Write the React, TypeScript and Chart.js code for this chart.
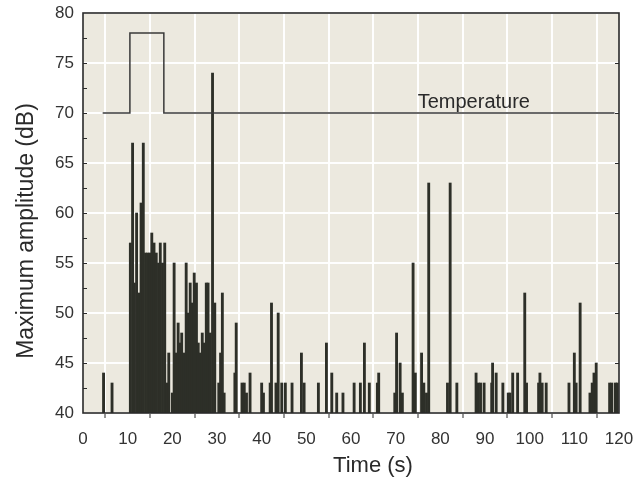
import React, { useEffect, useRef } from "react";
import { Chart, registerables } from "chart.js";

Chart.register(...registerables);

// Burst data: time (s) and maximum amplitude (dB)
const burstTimes = [
  4.6, 6.5,
  10.6, 11.1, 11.5, 12.0, 12.5, 13.0, 13.5, 14.0, 14.5, 15.0, 15.4, 15.9, 16.4, 16.9, 17.3, 17.8, 18.3, 18.8, 19.2,
  20.0, 20.4, 20.8, 21.3, 21.7, 22.1, 22.6, 23.1, 23.5, 24.0, 24.4, 24.9, 25.4, 25.8, 26.2, 26.7, 27.1, 27.6, 28.0, 28.5, 29.0, 29.5,
  30.4, 30.8, 31.2, 31.6,
  34.0, 34.3, 35.6, 36.1, 36.6, 37.4,
  40.0, 40.4, 41.9, 42.2, 43.2, 43.7, 44.5, 45.3, 46.8, 48.9, 49.5,
  52.7, 54.5, 55.7, 56.8, 58.2,
  60.7, 62.1, 63.0, 64.1, 65.9, 66.2, 69.8,
  70.2, 71.0, 71.5, 73.9, 74.4, 75.8, 76.3, 76.9, 77.4,
  81.6, 82.2, 83.7, 88.0, 88.5, 89.0, 89.8,
  91.5, 91.7, 92.5, 94.0, 95.2, 95.6, 96.2, 97.3, 98.9, 99.3,
  102.0, 102.3, 102.8, 103.7, 108.8,
  110.0, 110.4, 111.3, 113.5, 114.0, 114.4, 114.9, 117.9, 118.4, 119.2, 119.6,
];
const burstAmps = [
  44, 43,
  57, 67, 53, 60, 52, 61, 67, 56, 56, 56, 58, 57, 56, 55, 57, 55, 57, 43, 46,
  42, 55, 46, 49, 47, 48, 46, 55, 50, 53, 51, 54, 53, 47, 46, 48, 47, 53, 53, 48, 74, 51,
  43, 46, 52, 42,
  44, 49, 43, 43, 42, 44,
  43, 42, 43, 51, 43, 50, 43, 43, 43, 46, 43,
  43, 47, 44, 42, 42,
  43, 43, 47, 43, 43, 44, 42,
  48, 45, 42, 55, 44, 46, 43, 42, 63,
  43, 63, 43, 44, 43, 43, 43,
  43, 45, 44, 43, 42, 42, 44, 44, 52, 43,
  43, 44, 43, 43, 43,
  46, 43, 51, 42, 43, 44, 45, 43, 43, 43, 43,
];

// Temperature trace (step), drawn on the same dB scale
const tempTimes = [4.4, 10.5, 10.5, 18.1, 18.1, 119];
const tempLevels = [70, 70, 78, 78, 70, 70];

const xTickValues = [0, 10, 20, 30, 40, 50, 60, 70, 80, 90, 100, 110, 120];
const yTickValues = [40, 45, 50, 55, 60, 65, 70, 75, 80];

const xTitle = "Time (s)";
const yTitle = "Maximum amplitude (dB)";
const tempLabel = "Temperature";

const FONT = '"Liberation Sans", Arial, sans-serif';
const PLOT_BG = "#ece9df";
const BAR_COLOR = "#2d2f28";
const INK = "#2a2a2a";

const decorPlugin = {
  id: "decor",
  beforeDraw(chart: any) {
    const { ctx, chartArea: a } = chart;
    ctx.save();
    ctx.fillStyle = "#ffffff";
    ctx.fillRect(0, 0, chart.width, chart.height);
    ctx.fillStyle = PLOT_BG;
    ctx.fillRect(a.left, a.top, a.right - a.left, a.bottom - a.top);
    ctx.restore();
  },
  afterDatasetsDraw(chart: any) {
    const { ctx, chartArea: a, scales } = chart;
    const ys = scales.y;
    const xs = scales.x;
    ctx.save();
    // frame
    ctx.strokeStyle = INK;
    ctx.lineWidth = 1.6;
    ctx.strokeRect(a.left, a.top, a.right - a.left, a.bottom - a.top);
    // minor inward ticks on left, inward ticks on right
    ctx.lineWidth = 1;
    for (let v = 42.5; v < 80; v += 2.5) {
      const py = Math.round(ys.getPixelForValue(v)) + 0.5;
      ctx.beginPath();
      ctx.moveTo(a.left, py);
      ctx.lineTo(a.left + 4, py);
      ctx.stroke();
    }
    for (let v = 45; v < 80; v += 5) {
      const py = Math.round(ys.getPixelForValue(v)) + 0.5;
      ctx.beginPath();
      ctx.moveTo(a.right, py);
      ctx.lineTo(a.right - 4, py);
      ctx.stroke();
    }
    // temperature label
    ctx.fillStyle = INK;
    ctx.font = `20px ${FONT}`;
    ctx.textAlign = "center";
    ctx.textBaseline = "alphabetic";
    ctx.fillText(tempLabel, xs.getPixelForValue(87.5), ys.getPixelForValue(70) - 5);
    ctx.restore();
  },
  afterDraw(chart: any) {
    const { ctx, chartArea: a } = chart;
    ctx.save();
    ctx.fillStyle = INK;
    ctx.textAlign = "center";
    ctx.textBaseline = "middle";
    ctx.font = `22px ${FONT}`;
    ctx.fillText(xTitle, (a.left + a.right) / 2 + 22, 466);
    ctx.translate(27, (a.top + a.bottom) / 2 + 18);
    ctx.rotate(-Math.PI / 2);
    ctx.font = `23px ${FONT}`;
    ctx.fillText(yTitle, 0, 0);
    ctx.restore();
  },
};

export default function App() {
  const ref = useRef<HTMLCanvasElement | null>(null);

  useEffect(() => {
    if (!ref.current) return;
    const chart = new Chart(ref.current, {
      type: "bar",
      data: {
        datasets: [
          {
            type: "line",
            label: tempLabel,
            data: tempTimes.map((t, i) => ({ x: t, y: tempLevels[i] })),
            borderColor: "#3a3a3a",
            borderWidth: 1.5,
            pointRadius: 0,
            fill: false,
            tension: 0,
            order: 0,
          } as any,
          {
            type: "bar",
            label: "Maximum amplitude",
            data: burstTimes.map((t, i) => ({ x: t, y: [40, burstAmps[i]] })),
            backgroundColor: BAR_COLOR,
            borderWidth: 0,
            barThickness: 2.2,
            grouped: false,
            order: 1,
          } as any,
        ],
      },
      options: {
        animation: false,
        responsive: false,
        maintainAspectRatio: false,
        layout: { padding: { top: 13, right: 23, left: 0, bottom: 0 } },
        plugins: { legend: { display: false }, tooltip: { enabled: false } },
        scales: {
          x: {
            type: "linear",
            min: 0,
            max: 120,
            offset: false,
            afterBuildTicks: (s: any) => {
              s.ticks = xTickValues.map((v) => ({ value: v }));
            },
            ticks: {
              color: "#333",
              font: { family: FONT, size: 17 },
              padding: 11,
              maxRotation: 0,
              autoSkip: false,
            },
            grid: {
              color: "rgba(255,255,255,0.95)",
              lineWidth: 2,
              tickColor: INK,
              tickLength: 5,
              tickWidth: 1,
            },
            border: { display: false },
            afterFit: (s: any) => {
              s.height = 73;
              s.paddingLeft = 0;
              s.paddingRight = 0;
            },
          },
          y: {
            type: "linear",
            min: 40,
            max: 80,
            afterBuildTicks: (s: any) => {
              s.ticks = yTickValues.map((v) => ({ value: v }));
            },
            ticks: {
              color: "#333",
              font: { family: FONT, size: 17 },
              padding: 9,
              autoSkip: false,
            },
            grid: {
              color: "rgba(255,255,255,0.95)",
              lineWidth: 2,
              drawTicks: false,
            },
            border: { display: false },
            afterFit: (s: any) => {
              s.width = 83;
              s.paddingTop = 0;
              s.paddingBottom = 0;
            },
          },
        },
      } as any,
      plugins: [decorPlugin],
    });
    return () => chart.destroy();
  }, []);

  return (
    <div style={{ position: "absolute", left: 0, top: 0, width: 642, height: 486 }}>
      <canvas ref={ref} width={642} height={486} style={{ width: 642, height: 486 }} />
    </div>
  );
}
